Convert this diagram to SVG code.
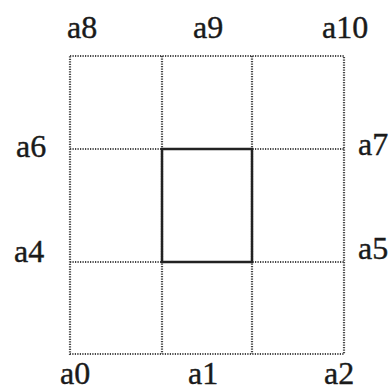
<svg xmlns="http://www.w3.org/2000/svg" width="391" height="392" viewBox="0 0 391 392">
<style>
.g{stroke:#444;stroke-width:2.2;stroke-dasharray:1.2 1.3;fill:none}
.b{stroke:#222;stroke-width:2.5;fill:none}
</style>
<rect width="391" height="392" fill="#fff"/>
<g id="connectors">
<rect class="g" x="70" y="56" width="274" height="298"/>
<line class="g" x1="162" y1="56" x2="162" y2="354"/>
<line class="g" x1="252" y1="56" x2="252" y2="354"/>
<line class="g" x1="70" y1="149" x2="344" y2="149"/>
<line class="g" x1="70" y1="262" x2="344" y2="262"/>
</g>
<g id="inner"><rect class="b" x="162" y="149" width="90" height="113"/></g>
<g fill="#1a1a1a" stroke="#1a1a1a" stroke-width="0.4" font-size="32">
<g id="a8"><text x="67" y="38" font-family="Liberation Serif">a8</text></g>
<g id="a9"><text x="193" y="38" font-family="Liberation Serif">a9</text></g>
<g id="a10"><text x="322" y="38" font-family="Liberation Serif">a10</text></g>
<g id="a6"><text x="16" y="157" font-family="Liberation Serif">a6</text></g>
<g id="a7"><text x="358" y="155" font-family="Liberation Serif">a7</text></g>
<g id="a4"><text x="14" y="262" font-family="Liberation Serif">a4</text></g>
<g id="a5"><text x="358" y="259" font-family="Liberation Serif">a5</text></g>
<g id="a0"><text x="60" y="384" font-family="Liberation Serif">a0</text></g>
<g id="a1"><text x="188" y="384" font-family="Liberation Serif">a1</text></g>
<g id="a2"><text x="324" y="384" font-family="Liberation Serif">a2</text></g>
</g>
</svg>
